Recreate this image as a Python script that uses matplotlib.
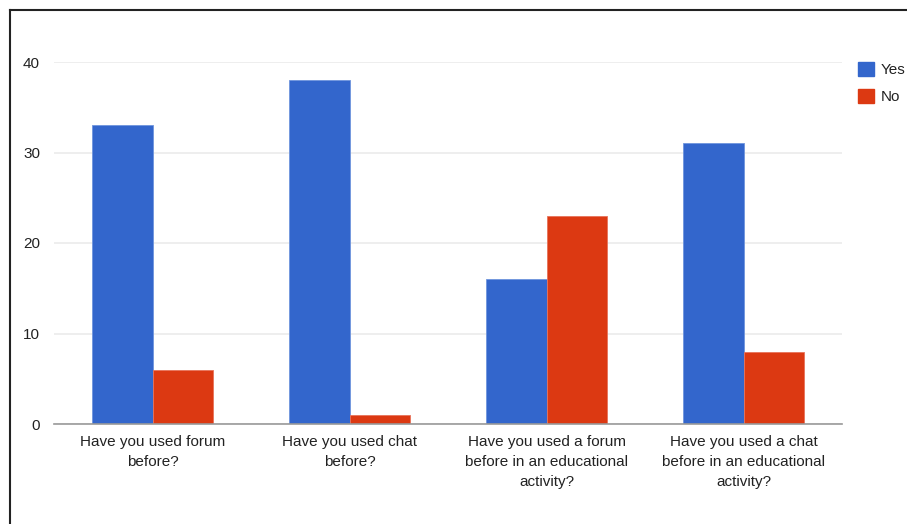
import numpy as np
import matplotlib
matplotlib.use("Agg")
import matplotlib.pyplot as plt
from matplotlib.lines import Line2D
from matplotlib.patches import Patch

plt.rcParams['font.family'] = ['Liberation Sans', 'DejaVu Sans']

# Survey answers per question
questions = [
    "Have you used forum\nbefore?",
    "Have you used chat\nbefore?",
    "Have you used a forum\nbefore in an educational\nactivity?",
    "Have you used a chat\nbefore in an educational\nactivity?",
]
yes_counts = [33, 38, 16, 31]
no_counts = [6, 1, 23, 8]
y_ticks = [0, 10, 20, 30, 40]

BLUE = "#3366cc"
RED = "#dc3912"

fig = plt.figure(figsize=(9.07, 5.24), dpi=100)
ax = fig.add_axes([54 / 907, 1 - 424 / 524, 788 / 907, 362 / 524])

x = np.arange(len(questions))
w = 0.305
ax.bar(x - w / 2, yes_counts, w, color=BLUE, edgecolor="#6f95dd", linewidth=0.6, zorder=3)
ax.bar(x + w / 2, no_counts, w, color=RED, edgecolor="#e8735a", linewidth=0.6, zorder=3)

ax.set_xlim(-0.5, len(questions) - 0.5)
ax.set_ylim(0, 40)
ax.set_yticks(y_ticks)
ax.set_yticklabels([str(t) for t in y_ticks])
ax.yaxis.grid(True, color="#ebebeb", linewidth=1.2, zorder=0)
ax.set_xticks(x)
ax.set_xticklabels(questions, fontsize=11, color="#222222", linespacing=1.55)
ax.tick_params(axis="both", length=0, labelsize=11, colors="#222222")
ax.tick_params(axis="x", pad=8)
ax.tick_params(axis="y", pad=10)
for s in ["top", "right", "left"]:
    ax.spines[s].set_visible(False)
ax.spines["bottom"].set_color("#999999")
ax.spines["bottom"].set_linewidth(1.2)
ax.spines["bottom"].set_zorder(4)

handles = [Patch(facecolor=BLUE, edgecolor=BLUE), Patch(facecolor=RED, edgecolor=RED)]
fig.legend(handles, ["Yes", "No"], loc="upper left", bbox_to_anchor=(844 / 907, 1 - 48 / 524),
           frameon=False, fontsize=11, handlelength=1.05, handleheight=1.05,
           handletextpad=0.45, labelspacing=0.75, labelcolor="#222222")

# frame of the screenshot
fig.add_artist(Line2D([10 / 907, 1], [1 - 10 / 524] * 2, color="#222222", linewidth=1.5))
fig.add_artist(Line2D([10 / 907] * 2, [0, 1 - 10 / 524], color="#222222", linewidth=1.5))

fig.savefig("out.png", dpi=100, facecolor="white")
